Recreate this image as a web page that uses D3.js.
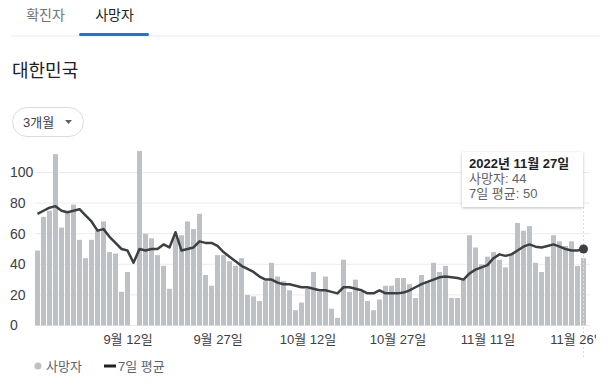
<!DOCTYPE html>
<html>
<head>
<meta charset="utf-8">
<script src="https://cdn.jsdelivr.net/npm/d3@7"></script>
<style>
  body { margin: 0; background: #fff; }
  svg text { font-family: "Liberation Sans", "Noto Sans CJK KR", sans-serif; }
</style>
</head>
<body>
<div id="chart"></div>
<script>
// daily deaths, 2022-08-28 .. 2022-11-27
var deaths = [
  49, 71, 75, 112, 64, 74, 79, 56, 44, 56,
  62, 68, 48, 47, 22, 35, 0, 114, 60, 57,
  46, 39, 24, 59, 59, 68, 63, 73, 33, 26,
  46, 46, 42, 39, 44, 20, 19, 16, 29, 41,
  32, 29, 23, 10, 15, 24, 35, 22, 32, 11,
  5, 43, 22, 30, 22, 16, 10, 17, 26, 26,
  31, 31, 27, 18, 33, 29, 41, 35, 39, 18,
  18, 30, 59, 51, 40, 45, 48, 43, 38, 47,
  67, 62, 65, 41, 35, 45, 59, 55, 52, 55,
  39, 44
];

// 7-day average line
var average = [
  73, 75, 77, 78, 75, 74, 75, 76, 72, 68,
  62, 63, 58, 54, 50, 49, 41, 50, 49, 50,
  50, 53, 51, 61, 49, 50, 51, 55, 54, 54,
  52, 48, 45, 42, 39, 37, 35, 32, 30, 30,
  28, 27, 27, 26, 25, 25, 24, 23, 23, 22,
  21, 25, 25, 24, 23, 21, 21, 23, 21, 21,
  21, 21.5, 23, 25, 27, 28.5, 30, 31.5, 32, 31.5,
  31, 30, 34, 36.5, 38, 39.5, 44, 46.5, 45.5, 46.5,
  49, 51.5, 53, 51.5, 51, 52, 53, 51.5, 50, 49,
  49, 50
];

var firstDay = "2022-08-28";
var lastDay = "2022-11-27";
var tickDays = ["2022-09-12", "2022-09-27", "2022-10-12", "2022-10-27", "2022-11-11", "2022-11-26"];
var yTicks = [0, 20, 40, 60, 80, 100];
var tabs = ["확진자", "사망자"];
var legendItems = ["사망자", "7일 평균"];

var COLORS = {
  bar: "#bdc1c6",
  line: "#3c4043",
  grid: "#ececec",
  text: "#202124",
  gray: "#5f6368",
  blue: "#1a73e8"
};

var width = 613, height = 389;
var plot = { left: 35, right: 590, top: 141, bottom: 325.5 };

var parse = d3.timeParse("%Y-%m-%d");
var dates = d3.timeDay.range(parse(firstDay), d3.timeDay.offset(parse(lastDay), 1));
var data = dates.map((d, i) => ({ date: d, value: deaths[i], avg: average[i] }));

var xScale = d3.scaleTime()
  .domain([dates[0], dates[dates.length - 1]])
  .range([37.5, 583.5]);

var yScale = d3.scaleLinear()
  .domain([0, 100])
  .range([plot.bottom, 172.5]);

var svg = d3.select("#chart").append("svg")
  .attr("width", width)
  .attr("height", height);

var defs = svg.append("defs");
defs.append("clipPath").attr("id", "axis-clip")
  .append("rect").attr("x", 0).attr("y", 0).attr("width", 596).attr("height", height);
var shadow = defs.append("filter").attr("id", "shadow")
  .attr("x", "-20%").attr("y", "-20%").attr("width", "140%").attr("height", "150%");
shadow.append("feDropShadow")
  .attr("dx", 0).attr("dy", 1).attr("stdDeviation", 1.5)
  .attr("flood-color", "#000").attr("flood-opacity", 0.25);

// tabs
svg.append("line")
  .attr("x1", 10).attr("x2", 600).attr("y1", 36).attr("y2", 36)
  .style("stroke", "#e8eaed").style("stroke-width", 1);

svg.selectAll(".tab")
  .data(tabs)
  .join("text")
  .attr("class", "tab")
  .attr("x", (d, i) => i == 0 ? 45.5 : 114.5)
  .attr("y", 20)
  .attr("text-anchor", "middle")
  .style("font-size", "14px")
  .style("fill", (d, i) => i == 0 ? "#70757a" : COLORS.text)
  .text(d => d);

svg.append("rect")
  .attr("x", 79).attr("y", 33).attr("width", 70).attr("height", 3)
  .attr("rx", 1.5)
  .style("fill", COLORS.blue);

// title
svg.append("text")
  .attr("x", 12).attr("y", 77)
  .style("font-size", "18px")
  .style("fill", COLORS.text)
  .text("대한민국");

// range button
svg.append("rect")
  .attr("x", 12.5).attr("y", 107.5).attr("width", 71).attr("height", 29)
  .attr("rx", 14.5)
  .style("fill", "#fff").style("stroke", "#dadce0");
svg.append("text")
  .attr("x", 23).attr("y", 126.5)
  .style("font-size", "13px")
  .style("fill", COLORS.line)
  .text("3개월");
svg.append("path")
  .attr("d", "M65,120 L72,120 L68.5,124 Z")
  .style("fill", COLORS.gray);

// grid + y labels
var chartElement = svg.append("g");

chartElement.selectAll(".grid")
  .data(yTicks)
  .join("line")
  .attr("class", "grid")
  .attr("x1", plot.left).attr("x2", plot.right)
  .attr("y1", d => yScale(d)).attr("y2", d => yScale(d))
  .style("stroke", COLORS.grid).style("stroke-width", 1);

chartElement.selectAll(".y-label")
  .data(yTicks)
  .join("text")
  .attr("class", "y-label")
  .attr("x", 10)
  .attr("y", d => yScale(d))
  .attr("dy", "0.35em")
  .style("font-size", "14px")
  .style("fill", COLORS.line)
  .text(d => d);

// bars
chartElement.selectAll(".bar")
  .data(data)
  .join("rect")
  .attr("class", "bar")
  .attr("x", d => xScale(d.date) - 2.5)
  .attr("width", 5)
  .attr("y", d => yScale(d.value))
  .attr("height", d => yScale(0) - yScale(d.value))
  .style("fill", COLORS.bar);

// hover guide
var last = data[data.length - 1];
chartElement.append("line")
  .attr("x1", xScale(last.date)).attr("x2", xScale(last.date))
  .attr("y1", 207).attr("y2", 358)
  .style("stroke", "#dadce0").style("stroke-width", 1)
  .style("stroke-dasharray", "2,2");

// 7-day average
var line = d3.line()
  .x(d => xScale(d.date))
  .y(d => yScale(d.avg));

chartElement.append("path")
  .datum(data)
  .attr("d", line)
  .style("fill", "none")
  .style("stroke", COLORS.line)
  .style("stroke-width", 2.5)
  .style("stroke-linejoin", "round");

chartElement.append("circle")
  .attr("cx", xScale(last.date))
  .attr("cy", yScale(last.avg))
  .attr("r", 4.5)
  .style("fill", COLORS.line);

// x axis
var xAxis = d3.axisBottom(xScale)
  .tickValues(tickDays.map(parse))
  .tickSize(0)
  .tickFormat(d3.timeFormat("%-m월 %-d일"));

var axisG = chartElement.append("g")
  .attr("clip-path", "url(#axis-clip)")
  .attr("transform", "translate(0," + 329 + ")")
  .call(xAxis);
axisG.select(".domain").remove();
axisG.selectAll("text")
  .attr("dy", "0.9em")
  .style("font-size", "13px")
  .style("font-family", "\"Liberation Sans\", \"Noto Sans CJK KR\", sans-serif")
  .style("fill", COLORS.line);

// legend
var legend = svg.append("g");
legend.append("circle")
  .attr("cx", 38).attr("cy", 366).attr("r", 3.5)
  .style("fill", COLORS.bar);
legend.append("line")
  .attr("x1", 104).attr("x2", 116).attr("y1", 366).attr("y2", 366)
  .style("stroke", COLORS.text).style("stroke-width", 3);
legend.selectAll(".legend-label")
  .data(legendItems)
  .join("text")
  .attr("class", "legend-label")
  .attr("x", (d, i) => i == 0 ? 46 : 118)
  .attr("y", 366)
  .attr("dy", "0.35em")
  .style("font-size", "13px")
  .style("fill", COLORS.gray)
  .text(d => d);

// tooltip
var tip = svg.append("g").attr("transform", "translate(462,152)");
tip.append("rect")
  .attr("width", 121).attr("height", 55)
  .style("fill", "#fff")
  .style("filter", "url(#shadow)");
tip.append("text")
  .attr("x", 7).attr("y", 16)
  .style("font-size", "13px")
  .style("font-weight", "bold")
  .style("fill", COLORS.text)
  .text(d3.timeFormat("%Y년 %-m월 %-d일")(last.date));
tip.append("text")
  .attr("x", 7).attr("y", 31)
  .style("font-size", "13px")
  .style("fill", COLORS.gray)
  .text("사망자: " + last.value);
tip.append("text")
  .attr("x", 7).attr("y", 46)
  .style("font-size", "13px")
  .style("fill", COLORS.gray)
  .text("7일 평균: " + Math.round(last.avg));
</script>
</body>
</html>
